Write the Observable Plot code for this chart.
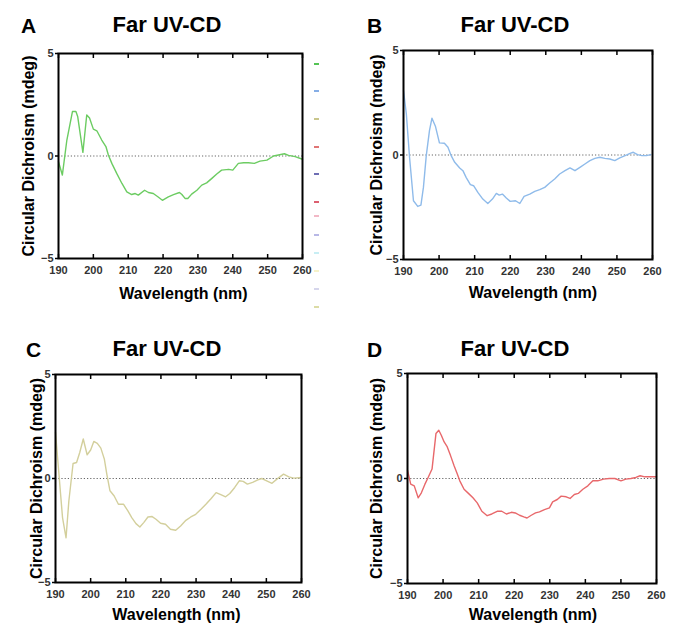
<!DOCTYPE html>
<html>
<head>
<meta charset="utf-8">
<script src="https://cdn.jsdelivr.net/npm/d3@7"></script>
<script src="https://cdn.jsdelivr.net/npm/@observablehq/plot@0.6"></script>
<style>
  html, body { margin: 0; padding: 0; background: #fff; }
  #root { position: relative; width: 680px; height: 636px; overflow: hidden; font-family: "Liberation Sans", Arial, sans-serif; }
  .abs { position: absolute; white-space: nowrap; }
  .title { font-size: 22px; font-weight: bold; line-height: 22px; color: #000; transform: translateX(-50%); }
  .letter { font-size: 21px; font-weight: bold; line-height: 21px; color: #000; }
  .dash { position: absolute; width: 5px; height: 1.5px; }
  svg { overflow: visible; }
</style>
</head>
<body>
<div id="root"></div>
<script>
// ---------------- data ----------------
const titleText = "Far UV-CD";
const panelLetters = ["A", "B", "C", "D"];
const xLabel = "Wavelength (nm)";
const yLabel = "Circular Dichroism (mdeg)";
const xTicks = [190, 200, 210, 220, 230, 240, 250, 260];
const yTicks = [-5, 0, 5];

// [wavelength (nm), CD (mdeg)]
const seriesA = [
  [190,-0.28],[191.1,-0.93],[192.4,0.78],[194.0,2.17],[195.0,2.17],[195.5,1.93],[197.0,0.18],
  [198.1,2.0],[198.9,1.85],[200.0,1.31],[201.0,1.23],[202.4,0.78],[203.6,0.46],[204.3,0.05],
  [205.3,-0.36],[206.7,-0.85],[208.2,-1.34],[209.6,-1.75],[211.0,-1.88],[212.0,-1.83],[212.9,-1.91],
  [214.7,-1.67],[215.8,-1.78],[217.2,-1.83],[218.5,-1.99],[219.8,-2.16],[221.5,-1.99],[223.0,-1.88],
  [224.7,-1.78],[225.4,-1.88],[226.3,-2.07],[227.1,-2.07],[228.2,-1.86],[229.7,-1.67],[231.1,-1.42],
  [232.5,-1.31],[234.0,-1.09],[235.4,-0.88],[236.8,-0.69],[238.8,-0.65],[240.0,-0.69],[241.6,-0.36],
  [243.1,-0.33],[244.5,-0.33],[246.2,-0.36],[247.8,-0.25],[249.8,-0.2],[251.7,0.0],[253.1,0.05],
  [254.8,0.11],[256.0,0.03],[257.9,-0.03],[260,-0.16]
];
const seriesB = [
  [190,3.08],[190.8,1.96],[191.7,-0.11],[192.8,-2.19],[194.0,-2.46],[194.9,-2.40],[195.6,-1.55],
  [196.4,-0.03],[197.3,1.17],[198.0,1.76],[199.0,1.36],[200.1,0.58],[201.5,0.56],[202.5,0.37],
  [203.4,-0.03],[204.4,-0.35],[205.8,-0.62],[206.7,-0.75],[207.6,-1.07],[208.8,-1.42],[209.7,-1.47],
  [210.9,-1.79],[212.3,-2.11],[213.7,-2.32],[215.0,-2.11],[216.1,-1.84],[216.9,-1.92],[217.8,-1.87],
  [218.9,-2.06],[220.0,-2.22],[221.5,-2.19],[222.7,-2.32],[223.9,-1.98],[225.5,-1.87],[226.9,-1.74],
  [228.3,-1.66],[229.7,-1.55],[231.1,-1.34],[232.5,-1.15],[233.9,-0.91],[235.4,-0.75],[236.8,-0.62],
  [238.2,-0.75],[239.6,-0.59],[241.0,-0.43],[242.4,-0.27],[243.8,-0.16],[245.2,-0.11],[246.6,-0.16],
  [248.0,-0.19],[249.4,-0.27],[250.8,-0.14],[252.3,-0.03],[253.7,0.08],[254.6,0.13],[255.8,0.02],
  [257.0,-0.03],[258.3,-0.03],[259.5,0.02]
];
const seriesC = [
  [190,2.22],[190.9,0.37],[192.0,-1.88],[193.0,-2.85],[193.8,-1.08],[195.0,0.72],[196.0,0.77],
  [196.9,1.25],[197.9,1.90],[199.0,1.14],[200.0,1.37],[200.9,1.78],[201.9,1.69],[202.9,1.46],
  [203.9,0.93],[204.6,0.21],[205.5,-0.59],[206.7,-0.84],[207.9,-1.24],[209.4,-1.24],[210.6,-1.56],
  [211.7,-1.88],[212.9,-2.17],[214.0,-2.33],[215.1,-2.12],[216.3,-1.85],[217.5,-1.83],[218.6,-1.96],
  [219.9,-2.15],[221.3,-2.20],[222.7,-2.44],[224.2,-2.49],[225.6,-2.28],[227.1,-2.01],[228.5,-1.85],
  [229.9,-1.72],[231.4,-1.48],[232.8,-1.24],[234.3,-0.96],[235.7,-0.68],[237.2,-0.79],[238.4,-0.88],
  [239.6,-0.72],[241.0,-0.43],[242.3,-0.11],[243.4,-0.14],[244.6,-0.27],[246.1,-0.19],[247.4,-0.08],
  [248.7,0.0],[250.1,-0.11],[251.6,-0.23],[253.0,-0.03],[254.9,0.21],[256.4,0.08],[257.8,0.02],[260,0.05]
];
const seriesD = [
  [190,0.40],[190.9,-0.27],[191.9,-0.35],[193.0,-0.92],[193.9,-0.68],[194.9,-0.27],[195.8,0.05],
  [196.9,0.45],[198.0,2.14],[198.8,2.30],[199.5,2.06],[200.3,1.74],[201.1,1.53],[202.1,1.09],
  [203.1,0.61],[204.0,0.21],[204.7,-0.11],[205.9,-0.51],[207.2,-0.72],[208.4,-0.92],[209.6,-1.16],
  [210.9,-1.56],[212.4,-1.77],[213.7,-1.69],[215.2,-1.56],[216.5,-1.56],[217.8,-1.69],[219.2,-1.61],
  [220.3,-1.64],[221.5,-1.75],[222.7,-1.83],[223.6,-1.88],[224.8,-1.75],[226.0,-1.64],[227.1,-1.59],
  [228.5,-1.48],[229.9,-1.40],[230.8,-1.11],[232.1,-1.00],[233.2,-0.84],[234.6,-0.87],[235.7,-0.95],
  [236.9,-0.76],[238.0,-0.71],[239.3,-0.51],[240.7,-0.35],[242.1,-0.11],[243.5,-0.11],[245.1,-0.03],
  [246.7,0.0],[248.3,0.0],[250.0,-0.11],[251.4,-0.03],[252.8,0.0],[254.2,0.05],[255.4,0.13],
  [256.7,0.08],[258.4,0.08],[260,0.08]
];
const seriesColors = ["#6ccc62", "#8fbbea", "#d3cf9c", "#e8686b"];
// leftover legend swatches (no text) to the right of panel A
const legendColors = ["#55c455", "#86aee6", "#c9c68c", "#e07575", "#6e6eb4", "#dc6070",
                      "#f2b8c6", "#b8b8e6", "#c8eef4", "#f6f2c8", "#d6d6ec", "#dcdca6"];

// ---------------- layout ----------------
const layout = [
  { svgLeft: 0,   svgTop: 40,  height: 272, frame: [58, 302, 53, 258],  titleX: 167, titleBase: 33,  letterX: 21,  yLabDx: -30, xLabDy: 40, xLabDx: 3 },
  { svgLeft: 340, svgTop: 40,  height: 272, frame: [403, 652, 50, 259], titleX: 515, titleBase: 33,  letterX: 367, yLabDx: -27, xLabDy: 38, xLabDx: 5 },
  { svgLeft: 0,   svgTop: 360, height: 276, frame: [55, 301, 374, 582], titleX: 167, titleBase: 357, letterX: 26,  yLabDx: -19, xLabDy: 37, xLabDx: -2 },
  { svgLeft: 340, svgTop: 360, height: 276, frame: [407, 656, 373, 583],titleX: 515, titleBase: 357, letterX: 367, yLabDx: -31, xLabDy: 36, xLabDx: 1 }
];
const legendX = 314;
const legendTops = [63, 90, 118, 146, 173, 201, 215, 234, 252, 270, 288, 306];

const root = document.getElementById("root");
const allSeries = [seriesA, seriesB, seriesC, seriesD];
const font = "Liberation Sans, Arial, sans-serif";

allSeries.forEach((series, i) => {
  const L = layout[i];
  const [fl, fr, ft, fb] = L.frame;
  const width = 340;
  const data = series.map(([wl, cd]) => ({wl, cd}));
  const plot = Plot.plot({
    width, height: L.height,
    marginLeft: fl - L.svgLeft,
    marginRight: L.svgLeft + width - fr,
    marginTop: ft - L.svgTop,
    marginBottom: L.svgTop + L.height - fb,
    x: {domain: [190, 260]},
    y: {domain: [-5, 5]},
    style: {fontFamily: font, background: "transparent", overflow: "visible"},
    marks: [
      Plot.ruleY([0], {stroke: "#666", strokeWidth: 1.2, strokeDasharray: "1.2,2"}),
      Plot.line(data, {x: "wl", y: "cd", stroke: seriesColors[i], strokeWidth: 1.4}),
      Plot.frame({stroke: "#000", strokeWidth: 2}),
      Plot.axisX(xTicks, {anchor: "bottom", tickSize: 4, dy: -4, fill: "none", label: null, strokeWidth: 1.5}),
      Plot.axisX(xTicks, {anchor: "top", tickSize: 4, dy: 4, fill: "none", label: null, strokeWidth: 1.5}),
      Plot.axisX(xTicks, {anchor: "bottom", tickSize: 0, tickPadding: 8, fontSize: 11, fontWeight: "bold", fill: "#333", label: null}),
      Plot.axisY(yTicks, {anchor: "left", tickSize: 3, tickPadding: 2, fontSize: 11, fontWeight: "bold", fill: "#333", label: null, strokeWidth: 1.5}),
      Plot.text([yLabel], {text: d => d, frameAnchor: "left", textAnchor: "middle", rotate: -90, dx: L.yLabDx, fontSize: 16, fontWeight: "bold", fill: "#000"}),
      Plot.text([xLabel], {text: d => d, frameAnchor: "bottom", textAnchor: "middle", dy: L.xLabDy, dx: L.xLabDx, fontSize: 16, fontWeight: "bold", fill: "#000"})
    ]
  });
  plot.style.position = "absolute";
  plot.style.left = L.svgLeft + "px";
  plot.style.top = L.svgTop + "px";
  root.appendChild(plot);

  const t = document.createElement("div");
  t.className = "abs title";
  t.textContent = titleText;
  t.style.left = L.titleX + "px";
  t.style.top = (L.titleBase - 0.8465 * 22) + "px";
  root.appendChild(t);

  const l = document.createElement("div");
  l.className = "abs letter";
  l.textContent = panelLetters[i];
  l.style.left = L.letterX + "px";
  l.style.top = (L.titleBase - 0.8465 * 21) + "px";
  root.appendChild(l);
});

legendColors.forEach((c, k) => {
  const d = document.createElement("div");
  d.className = "dash";
  d.style.background = c;
  d.style.left = legendX + "px";
  d.style.top = legendTops[k] + "px";
  root.appendChild(d);
});
</script>
</body>
</html>
